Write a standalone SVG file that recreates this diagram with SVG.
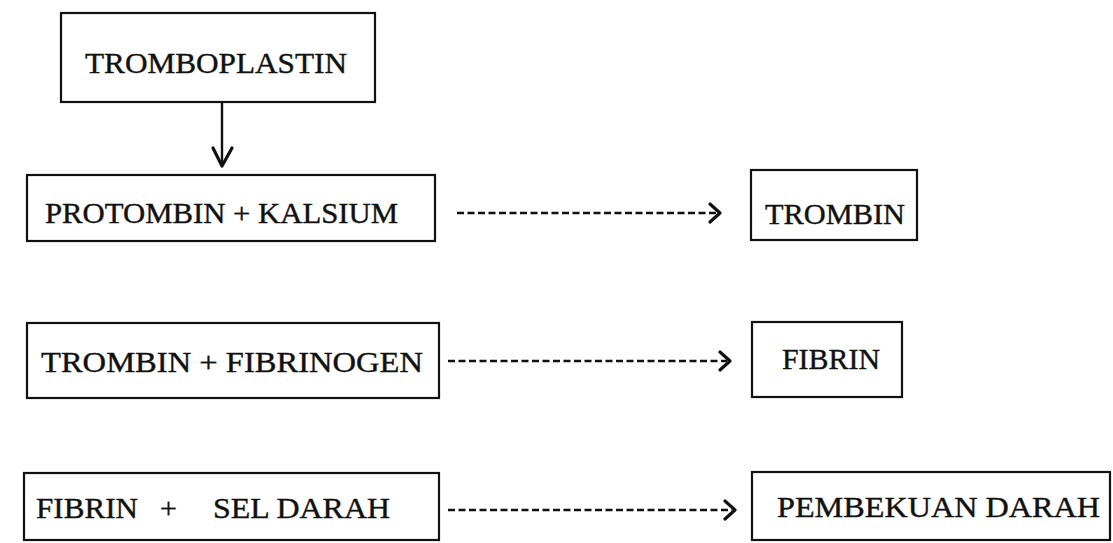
<svg xmlns="http://www.w3.org/2000/svg" width="1113" height="543" viewBox="0 0 1113 543">
<style>
.box{fill:none;stroke:#111;stroke-width:2.2}
.t{font-family:"Liberation Serif","Times New Roman",serif;font-size:30px;fill:#111;stroke:#111;stroke-width:0.4}
.dash{stroke:#111;stroke-width:2.6;stroke-dasharray:7 3.5;fill:none}
.head{stroke:#111;stroke-width:3.2;fill:none;stroke-linecap:round;stroke-linejoin:round}
.solid{stroke:#111;stroke-width:2.4;fill:none}
</style>
<rect width="1113" height="543" fill="#fff"/>
<g id="tromboplastin">
<rect class="box" x="61" y="13" width="314" height="89"/>
<text class="t" x="85" y="73" textLength="262" lengthAdjust="spacingAndGlyphs">TROMBOPLASTIN</text>
</g>
<g id="protombin-kalsium">
<rect class="box" x="27" y="175" width="408" height="66"/>
<text class="t" x="45" y="223" textLength="353" lengthAdjust="spacingAndGlyphs">PROTOMBIN + KALSIUM</text>
</g>
<g id="trombin">
<rect class="box" x="751" y="170" width="166" height="70"/>
<text class="t" x="765" y="224" textLength="140" lengthAdjust="spacingAndGlyphs">TROMBIN</text>
</g>
<g id="trombin-fibrinogen">
<rect class="box" x="27" y="323" width="412" height="75"/>
<text class="t" x="41" y="372" textLength="382" lengthAdjust="spacingAndGlyphs">TROMBIN  +  FIBRINOGEN</text>
</g>
<g id="fibrin">
<rect class="box" x="752" y="322" width="150" height="75"/>
<text class="t" x="782" y="369" textLength="98" lengthAdjust="spacingAndGlyphs">FIBRIN</text>
</g>
<g id="fibrin-sel-darah">
<rect class="box" x="24" y="473" width="415" height="67"/>
<text class="t" x="36" y="518" textLength="102" lengthAdjust="spacingAndGlyphs">FIBRIN</text>
<text class="t" x="160" y="518">+</text>
<text class="t" x="213" y="518" textLength="177" lengthAdjust="spacingAndGlyphs">SEL DARAH</text>
</g>
<g id="pembekuan-darah">
<rect class="box" x="752" y="472" width="358" height="68"/>
<text class="t" x="777" y="517" textLength="323" lengthAdjust="spacingAndGlyphs">PEMBEKUAN DARAH</text>
</g>
<g id="connectors">
<line class="solid" x1="222" y1="102" x2="222" y2="165"/>
<polyline class="head" points="213,148 222,166 232,148"/>
<line class="dash" x1="457" y1="213" x2="717" y2="213"/>
<polyline class="head" points="710,204 720,213 710,222"/>
<line class="dash" x1="448" y1="361" x2="727" y2="361"/>
<polyline class="head" points="720,352 730,361 720,370"/>
<line class="dash" x1="448" y1="510" x2="732" y2="510"/>
<polyline class="head" points="725,501 735,510 725,519"/>
</g>
</svg>
